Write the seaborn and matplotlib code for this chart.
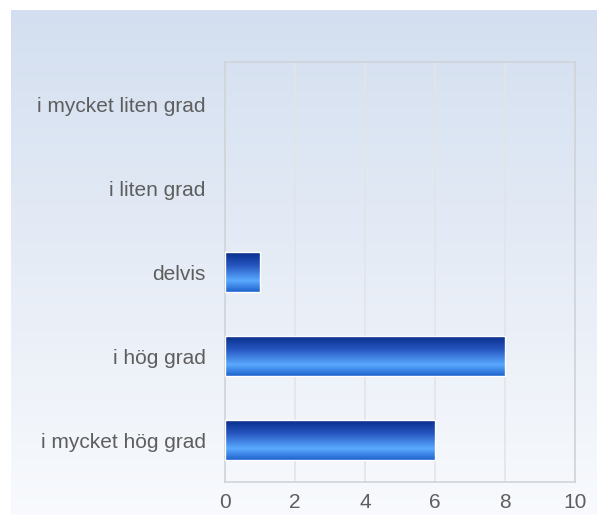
import numpy as np
import pandas as pd
import matplotlib
matplotlib.use("Agg")
import matplotlib.pyplot as plt
import seaborn as sns
from matplotlib.colors import LinearSegmentedColormap

categories = ["i mycket liten grad", "i liten grad", "delvis", "i hög grad", "i mycket hög grad"]
values = [0, 0, 1, 8, 6]
xticks = [0, 2, 4, 6, 8, 10]

sns.set_style("white")
plt.rcParams['font.family'] = ['Liberation Sans', 'DejaVu Sans']

W, H = 597, 515
fig = plt.figure(figsize=(W / 100, H / 100), dpi=100)

# background gradient panel
bg = fig.add_axes([0, 0, 1, 1])
bg.set_xlim(0, W)
bg.set_ylim(H, 0)
bg.axis("off")
bgcmap = LinearSegmentedColormap.from_list("bg", ["#D3DFF0", "#E6ECF6", "#F8FAFD"])
grad = np.linspace(0, 1, 256).reshape(-1, 1)
bg.imshow(grad, cmap=bgcmap, aspect="auto", extent=(11, W, H, 10), zorder=0)

ax = fig.add_axes([225 / W, 33 / H, 350 / W, 420 / H])
ax.patch.set_alpha(0)
df = pd.DataFrame({"cat": categories, "val": values})
sns.barplot(data=df, x="val", y="cat", orient="h", ax=ax, width=0.48,
            color="#2A6FD8", edgecolor="white", linewidth=1.0, zorder=3)

barcmap = LinearSegmentedColormap.from_list(
    "bar", [(0.0, "#072A86"), (0.35, "#2656C0"), (0.72, "#5AA9FF"), (1.0, "#1E62CC")])
for p in ax.patches:
    x0, y0 = p.get_x(), p.get_y()
    w, h = p.get_width(), p.get_height()
    if w <= 0:
        p.set_visible(False)
        continue
    p.set_facecolor("none")
    im = ax.imshow(grad, cmap=barcmap, aspect="auto",
                   extent=(x0, x0 + w, y0 + h, y0), zorder=2)
    im.set_clip_path(p)

ax.set_xlim(0, 10)
ax.set_ylim(4.5, -0.5)
ax.set_xticks(xticks)
ax.set_xticklabels([str(t) for t in xticks])
ax.xaxis.grid(True, color="#E2E4E8", linewidth=1.2, zorder=0)
ax.set_axisbelow(True)
ax.set_xlabel("")
ax.set_ylabel("")
for s in ax.spines.values():
    s.set_visible(True)
    s.set_color("#D0D3D8")
    s.set_linewidth(1.2)
ax.tick_params(axis="both", length=0, labelsize=15, labelcolor="#5E5E5E")
ax.tick_params(axis="y", pad=14)
ax.tick_params(axis="x", pad=8)

fig.savefig("out.png", dpi=100)
